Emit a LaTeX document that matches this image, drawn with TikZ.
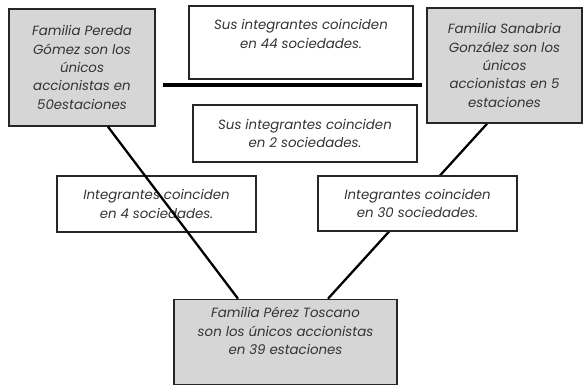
\documentclass[tikz,border=0pt]{standalone}
\usepackage{fontspec}
\setmainfont{Poppins}
\usetikzlibrary{positioning,backgrounds}
\tikzset{
  every node/.style={
    font=\fontsize{7.6}{10.5}\selectfont\itshape
  },
  family/.style={
    shape=rectangle,
    draw=black!85,
    line width=0.9pt,
    fill=black!16,
    text=black!80,
    align=center,
    inner sep=2pt
  },
  overlap/.style={
    shape=rectangle,
    draw=black!85,
    line width=0.9pt,
    fill=white,
    text=black!80,
    align=center,
    inner sep=2pt
  },
  link/.style={
    draw=black,
    line width=1.3pt
  },
  bar/.style={
    draw=black,
    line width=1.8pt
  }
}

\begin{document}
\begin{tikzpicture}[x=0.02cm,y=-0.02cm]
  \useasboundingbox (0,0) rectangle (584,385);
  % families
  \node [family, minimum width=2.92cm, minimum height=2.34cm] (pereda) at (82,67.5)
    {Familia Pereda\\Gómez son los\\únicos\\accionistas en\\50estaciones};
  \node [family, minimum width=3.1cm, minimum height=2.3cm] (sanabria) at (504.5,65.5)
    {Familia Sanabria\\González son los\\únicos\\accionistas en 5\\estaciones};
  \node [family, minimum width=4.46cm, minimum height=1.7cm,
    label={[yshift=0.22cm, align=center, text=black!80]center:{Familia Pérez Toscano\\son los únicos accionistas\\en 39 estaciones}}]
    (perez) at (285.5,342) {};
  % shared companies
  \node [overlap, minimum width=4.48cm, minimum height=1.46cm,
    label={[yshift=0.17cm, align=center, text=black!80]center:{Sus integrantes coinciden\\en 44 sociedades.}}]
    (soc44) at (301,42.5) {};
  \node [overlap, minimum width=4.48cm, minimum height=1.14cm] (soc2) at (305,133.5)
    {Sus integrantes coinciden\\en 2 sociedades.};
  \node [overlap, minimum width=3.98cm, minimum height=1.12cm] (soc4) at (156.5,204)
    {Integrantes coinciden\\en 4 sociedades.};
  \node [overlap, minimum width=3.98cm, minimum height=1.1cm] (soc30) at (417.5,203.5)
    {Integrantes coinciden\\en 30 sociedades.};
  % connectors
  \draw [bar, shorten <=0.14cm, shorten >=0.08cm]
    ([yshift=-0.35cm]pereda.east) -- ([yshift=-0.35cm]pereda.east -| sanabria.west);
  \begin{scope}[on background layer]
    \draw [link] ([xshift=-0.35cm]sanabria.south) -- ([xshift=0.85cm]perez.north);
  \end{scope}
  \draw [link] ([xshift=0.52cm]pereda.south) -- ([xshift=-0.95cm]perez.north);
\end{tikzpicture}
\end{document}
